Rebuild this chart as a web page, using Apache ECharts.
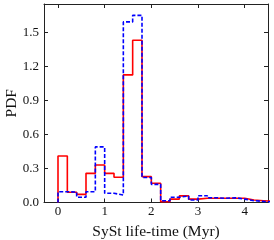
<!DOCTYPE html>
<html><head><meta charset="utf-8">
<script src="https://cdn.jsdelivr.net/npm/echarts@6/dist/echarts.min.js"></script>
<style>html,body{margin:0;padding:0;background:#fff}#c{width:274px;height:240px}</style>
</head><body><div id="c"></div>
<script>
const binEdges = [0,0.2,0.4,0.6,0.8,1.0,1.2,1.4,1.6,1.8,2.0,2.2,2.4,2.6,2.8,3.0,3.2,3.4,3.6,3.8,4.0,4.2,4.4,4.6];
const redValues = [0.41,0.09,0.072,0.257,0.33,0.257,0.222,1.125,1.43,0.228,0.17,0.007,0.03,0.058,0.03,0.037,0.037,0.037,0.037,0.037,0.022,0.016,0.01];
const blueValues = [0.095,0.092,0.046,0.095,0.49,0.081,0.066,1.592,1.65,0.22,0.16,0.016,0.046,0.058,0.022,0.06,0.042,0.037,0.042,0.03,0.016,0.01,0.005];
const xTicks = [0,1,2,3,4];
const yTicks = [0.0,0.3,0.6,0.9,1.2,1.5];

function outline(vals){
  const pts=[[binEdges[0],0]];
  for(let i=0;i<vals.length;i++){pts.push([binEdges[i],vals[i]]);pts.push([binEdges[i+1],vals[i]]);}
  pts.push([binEdges[vals.length],0]);
  return pts;
}
const font='Liberation Serif';
const axisCommon = {
  axisLine:{show:true,onZero:false,lineStyle:{color:'#222',width:1}},
  axisTick:{show:true,inside:true,length:4,lineStyle:{color:'#222',width:1}},
  splitLine:{show:false}
};
const chart=echarts.init(document.getElementById('c'),null,{renderer:'canvas'});
chart.setOption({
  animation:false,
  grid:{left:44,right:6,top:4,bottom:37.5,containLabel:false,outerBoundsMode:'none'},
  xAxis:[
    Object.assign({type:'value',min:-0.3,max:4.5,position:'bottom',
      name:'SySt life-time (Myr)',nameLocation:'middle',nameGap:21,nameMoveOverlap:false,
      nameTextStyle:{fontFamily:font,fontSize:15.5,color:'#111'},
      axisLabel:{customValues:xTicks,fontFamily:font,fontSize:13,color:'#111',margin:3,formatter:v=>String(v)}},
      axisCommon,{axisTick:Object.assign({},axisCommon.axisTick,{customValues:xTicks})}),
    Object.assign({type:'value',min:-0.3,max:4.5,position:'top',axisLabel:{show:false}},
      axisCommon,{axisTick:Object.assign({},axisCommon.axisTick,{customValues:xTicks})})
  ],
  yAxis:[
    Object.assign({type:'value',min:0,max:1.75,position:'left',
      name:'PDF',nameLocation:'middle',nameGap:24,nameMoveOverlap:false,
      nameTextStyle:{fontFamily:font,fontSize:15.5,color:'#111'},
      axisLabel:{customValues:yTicks,fontFamily:font,fontSize:13,color:'#111',margin:5,formatter:v=>v.toFixed(1)}},
      axisCommon,{axisTick:Object.assign({},axisCommon.axisTick,{customValues:yTicks})}),
    Object.assign({type:'value',min:0,max:1.75,position:'right',axisLabel:{show:false}},
      axisCommon,{axisTick:Object.assign({},axisCommon.axisTick,{customValues:yTicks})})
  ],
  series:[
    {type:'line',data:outline(redValues),showSymbol:false,symbol:'none',clip:true,
      lineStyle:{color:'#ff0000',width:1.6},z:2},
    {type:'line',data:outline(blueValues),showSymbol:false,symbol:'none',clip:true,
      lineStyle:{color:'#0000ff',width:1.6,type:[4,2]},z:3}
  ]
});
</script></body></html>
